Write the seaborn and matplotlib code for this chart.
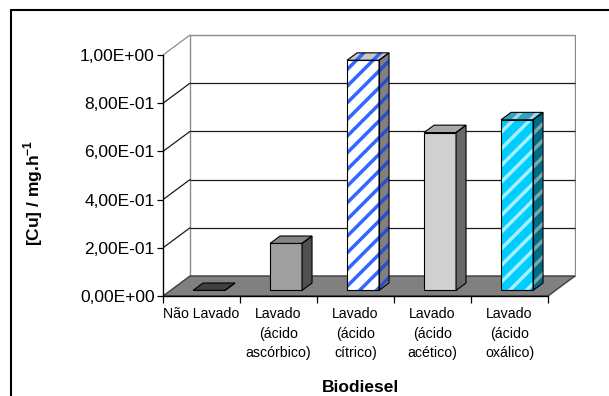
import matplotlib
matplotlib.use("Agg")
import matplotlib.pyplot as plt
from matplotlib.patches import Polygon
from matplotlib.lines import Line2D
from matplotlib.ticker import FuncFormatter, FixedLocator
import pandas as pd
import seaborn as sns

# ---- data ---------------------------------------------------------------
categories = [
    "Não Lavado",
    "Lavado\n(ácido\nascórbico)",
    "Lavado\n(ácido\ncítrico)",
    "Lavado\n(ácido\nacético)",
    "Lavado\n(ácido\noxálico)",
]
cu_rate = [0.0, 0.195, 0.955, 0.655, 0.708]
y_ticks = [0.0, 0.2, 0.4, 0.6, 0.8, 1.0]

# face colours per bar (front / side / top) and optional stripe colours
front_colors = ["#404040", "#A0A0A0", "#FFFFFF", "#D0D0D0", "#00CCFF"]
side_colors = ["#404040", "#505050", "#808080", "#686868", "#006B85"]
top_colors = ["#404040", "#858585", "#C8C8C8", "#A8A8A8", "#2FA3C0"]
stripe_front = [None, None, "#3366FF", None, "#A8F0FF"]
stripe_side = [None, None, "#2A4FC8", None, "#7FA4AE"]
stripe_top = [None, None, "#3366FF", None, "#9DD6E6"]

# ---- style --------------------------------------------------------------
sns.set_theme(style="white")
plt.rcParams["font.family"] = ["Liberation Sans", "DejaVu Sans"]
plt.rcParams["text.color"] = "black"
plt.rcParams["hatch.linewidth"] = 2.5
plt.rcParams["mathtext.fontset"] = "custom"
plt.rcParams["mathtext.rm"] = "Liberation Sans"
plt.rcParams["mathtext.bf"] = "Liberation Sans:bold"

W, H = 609, 396
fig = plt.figure(figsize=(W / 100, H / 100), dpi=100)

# plot geometry in pixels (measured from the top-left corner)
x_front0, x_front1 = 163, 548
y_zero, y_one = 296, 55
depth_px = (27, 20)
ax_left, ax_right, ax_top = 163, 576, 34

ax = fig.add_axes([ax_left / W, (H - y_zero) / H,
                   (ax_right - ax_left) / W, (y_zero - ax_top) / H])
per_x = len(categories) / (x_front1 - x_front0)
per_y = 1.0 / (y_zero - y_one)
ddx, ddy = depth_px[0] * per_x, depth_px[1] * per_y

df = pd.DataFrame({"grupo": categories, "cu": cu_rate})
sns.barplot(data=df, x="grupo", y="cu", ax=ax, width=0.415,
            color="#A0A0A0", errorbar=None, zorder=3)

ax.set_xlim(-0.5, -0.5 + (ax_right - ax_left) * per_x)
ax.set_ylim(0, (y_zero - ax_top) * per_y)
ax.set_facecolor("none")

x_lo, x_hi = -0.5, len(categories) - 0.5

# back wall with gridlines
wall = Polygon([(x_lo + ddx, ddy), (x_hi + ddx, ddy), (x_hi + ddx, 1 + ddy),
                (x_lo + ddx, 1 + ddy)], closed=True, facecolor="white",
               edgecolor="#8C8C8C", lw=1.0, zorder=0.5)
ax.add_patch(wall)
for t in y_ticks[1:-1]:
    ax.plot([x_lo + ddx, x_hi + ddx], [t + ddy, t + ddy], color="#1A1A1A",
            lw=0.9, zorder=0.6, solid_capstyle="butt")
# side wall lines
for t in y_ticks[1:]:
    c = "#8C8C8C" if t == y_ticks[-1] else "#1A1A1A"
    ax.plot([x_lo, x_lo + ddx], [t, t + ddy], color=c, lw=0.9, zorder=0.6)

# floor
floor = Polygon([(x_lo, 0), (x_hi, 0), (x_hi + ddx, ddy), (x_lo + ddx, ddy)],
                closed=True, facecolor="#808080", edgecolor="#404040",
                lw=1.0, zorder=0.8)
ax.add_patch(floor)


def face(verts, fc, stripe, z):
    fill = Polygon(verts, closed=True, facecolor=fc,
                   edgecolor=stripe if stripe else "none",
                   hatch="//" if stripe else None, lw=0, zorder=z)
    ax.add_patch(fill)
    outline = Polygon(verts, closed=True, fill=False, edgecolor="black",
                      lw=0.8, zorder=z + 0.05)
    ax.add_patch(outline)


# turn the seaborn bars into boxes standing on the floor
f_front, f_box = 0.28, 0.37
bdx, bdy = f_box * ddx, f_box * ddy
for i, p in enumerate(list(ax.patches)[:len(categories)]):
    x0 = p.get_x() + f_front * ddx
    w = p.get_width()
    h = p.get_height()
    b = f_front * ddy
    p.set_x(x0)
    p.set_y(b)
    p.set_facecolor(front_colors[i])
    if stripe_front[i]:
        p.set_edgecolor(stripe_front[i])
        p.set_hatch("//")
        p.set_linewidth(0)
        face([(x0, b), (x0 + w, b), (x0 + w, b + h), (x0, b + h)],
             "none", None, 3.2)
    else:
        p.set_edgecolor("black")
        p.set_linewidth(0.8)
    side = [(x0 + w, b), (x0 + w + bdx, b + bdy),
            (x0 + w + bdx, b + h + bdy), (x0 + w, b + h)]
    top = [(x0, b + h), (x0 + w, b + h), (x0 + w + bdx, b + h + bdy),
           (x0 + bdx, b + h + bdy)]
    face(side, side_colors[i], stripe_side[i], 3.0)
    face(top, top_colors[i], stripe_top[i], 3.0)

# axes, ticks and labels
for s in ("top", "right"):
    ax.spines[s].set_visible(False)
ax.spines["left"].set_bounds(0, 1)
ax.spines["bottom"].set_bounds(x_lo, x_hi)
for s in ("left", "bottom"):
    ax.spines[s].set_color("black")
    ax.spines[s].set_linewidth(1.0)
    ax.spines[s].set_zorder(4)

ax.set_yticks(y_ticks)
ax.yaxis.set_major_formatter(
    FuncFormatter(lambda v, _: f"{v:.2E}".replace(".", ",")))
ax.tick_params(axis="y", left=True, length=4, width=0.9, pad=2,
               labelsize=12.5, colors="black")
ax.set_xticks(range(len(categories)))
ax.set_xticklabels(categories, linespacing=1.5)
ax.xaxis.set_minor_locator(FixedLocator([k - 0.5 for k in range(len(categories) + 1)]))
ax.tick_params(axis="x", which="major", bottom=True, length=0, pad=8,
               labelsize=10.2, colors="black")
ax.tick_params(axis="x", which="minor", bottom=True, length=5, width=0.9,
               color="black")
ax.set_xlabel("")
ax.set_ylabel("")

fig.text(360 / W, 1 - 387 / H, "Biodiesel", ha="center", va="center",
         fontsize=12.5, fontweight="bold", color="black")
fig.text(33 / W, 1 - 193 / H, r"[Cu] / mg.h$^{\mathbf{-1}}$", ha="center",
         va="center", rotation=90, fontsize=12.5, fontweight="bold",
         color="black")

# outer frame
fig.add_artist(Line2D([11 / W, 1], [1 - 10 / H, 1 - 10 / H],
                      transform=fig.transFigure, color="black", lw=1.5))
fig.add_artist(Line2D([11 / W, 11 / W], [0, 1 - 10 / H],
                      transform=fig.transFigure, color="black", lw=1.5))

fig.savefig("out.png", dpi=100)
